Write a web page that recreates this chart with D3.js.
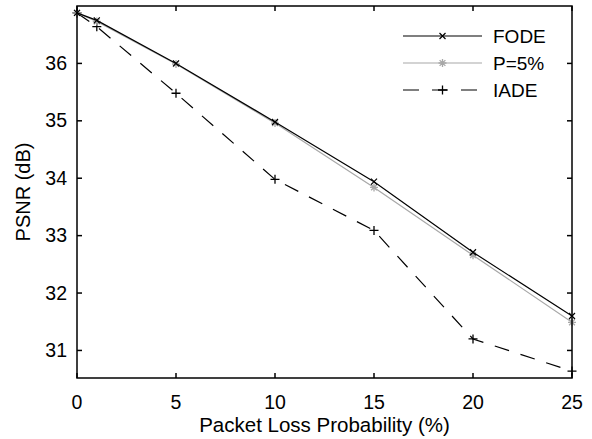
<!DOCTYPE html>
<html lang="en">
<head>
<meta charset="UTF-8">
<title>PSNR vs packet loss</title>
<script src="https://cdn.jsdelivr.net/npm/d3@7"></script>
<style>
    body { margin: 0; background: #fff; }
    text { font-family: "Liberation Sans", Arial, sans-serif; fill: #000; }
</style>
</head>
<body>
<script>
    // data
    var lossProb = [0, 1, 5, 10, 15, 20, 25];
    var fode = [36.88, 36.75, 36.0, 34.98, 33.94, 32.71, 31.6];
    var p5 = [36.88, 36.73, 35.99, 34.96, 33.84, 32.66, 31.49];
    var iade = [36.88, 36.64, 35.48, 33.98, 33.09, 31.2, 30.64];
    var xTicks = [0, 5, 10, 15, 20, 25];
    var yTicks = [31, 32, 33, 34, 35, 36];

    var W = 592, H = 439;
    var m = {left: 77, right: 20, top: 6, bottom: 61};

    var svg = d3.select("body").append("svg")
        .attr("width", W).attr("height", H);

    var x = d3.scaleLinear().domain([0, 25]).range([m.left, W - m.right]);
    var y = d3.scaleLinear().domain([30.52, 37.0]).range([H - m.bottom, m.top]);

    var series = [
        {name: "FODE", vals: fode, color: "#000", dash: null, mark: "x"},
        {name: "P=5%", vals: p5, color: "#a8a8a8", dash: null, mark: "star"},
        {name: "IADE", vals: iade, color: "#000", dash: "15,12", mark: "plus"}
    ];

    function marker(g, type, cx, cy, color) {
        var s;
        if (type == "x") {
            s = 3;
            g.append("path").attr("d", `M${cx-s},${cy-s}L${cx+s},${cy+s}M${cx-s},${cy+s}L${cx+s},${cy-s}`)
                .attr("stroke", color).attr("stroke-width", 1.2);
        } else if (type == "plus") {
            s = 4.5;
            g.append("path").attr("d", `M${cx-s},${cy}L${cx+s},${cy}M${cx},${cy-s}L${cx},${cy+s}`)
                .attr("stroke", color).attr("stroke-width", 1.3);
        } else {
            s = 4;
            var d = 2.9;
            g.append("path").attr("d", `M${cx-s},${cy}L${cx+s},${cy}M${cx},${cy-s}L${cx},${cy+s}` +
                    `M${cx-d},${cy-d}L${cx+d},${cy+d}M${cx-d},${cy+d}L${cx+d},${cy-d}`)
                .attr("stroke", color).attr("stroke-width", 1.3);
        }
    }

    var line = d3.line().x((d, i) => x(lossProb[i])).y(d => y(d));

    var plot = svg.append("g");
    // IADE first, FODE last so it sits on top
    [series[2], series[1], series[0]].forEach(function(s) {
        plot.append("path")
            .attr("d", line(s.vals))
            .attr("fill", "none")
            .attr("stroke", s.color)
            .attr("stroke-width", 1.2)
            .attr("stroke-dasharray", s.dash);
        s.vals.forEach(function(v, i) {
            marker(plot, s.mark, x(lossProb[i]), y(v), s.color);
        });
    });

    // frame + inward ticks on all four sides
    var x0 = x.range()[0], x1 = x.range()[1], y0 = y.range()[0], y1 = y.range()[1];
    var tl = 5;
    var ax = svg.append("g").attr("stroke", "#000").attr("stroke-width", 1.5);
    ax.append("rect").attr("x", x0).attr("y", y1).attr("width", x1 - x0).attr("height", y0 - y1)
        .attr("fill", "none");
    xTicks.forEach(function(t) {
        ax.append("line").attr("x1", x(t)).attr("x2", x(t)).attr("y1", y0).attr("y2", y0 - tl);
        ax.append("line").attr("x1", x(t)).attr("x2", x(t)).attr("y1", y1).attr("y2", y1 + tl);
    });
    yTicks.forEach(function(t) {
        ax.append("line").attr("x1", x0).attr("x2", x0 + tl).attr("y1", y(t)).attr("y2", y(t));
        ax.append("line").attr("x1", x1).attr("x2", x1 - tl).attr("y1", y(t)).attr("y2", y(t));
    });

    svg.selectAll(".xt").data(xTicks).enter().append("text")
        .attr("x", d => x(d)).attr("y", y0 + 31)
        .attr("text-anchor", "middle").attr("font-size", "19.5px")
        .text(d => d);
    svg.selectAll(".yt").data(yTicks).enter().append("text")
        .attr("x", x0 - 10).attr("y", d => y(d) + 6.5)
        .attr("text-anchor", "end").attr("font-size", "19.5px")
        .text(d => d);

    svg.append("text")
        .attr("x", (x0 + x1) / 2).attr("y", 432)
        .attr("text-anchor", "middle").attr("font-size", "20.5px")
        .text("Packet Loss Probability (%)");
    svg.append("text")
        .attr("transform", `translate(30,${(y0 + y1) / 2}) rotate(-90)`)
        .attr("text-anchor", "middle").attr("font-size", "20px")
        .text("PSNR (dB)");

    // legend (no box)
    var lg = svg.append("g");
    series.forEach(function(s, i) {
        var ly = 36 + i * 27;
        lg.append("line").attr("x1", 403).attr("x2", 482).attr("y1", ly).attr("y2", ly)
            .attr("stroke", s.color).attr("stroke-width", 1.2)
            .attr("stroke-dasharray", s.dash ? "16,13" : null);
        marker(lg, s.mark, 442.5, ly, s.color);
        lg.append("text").attr("x", 493).attr("y", ly + 7)
            .attr("font-size", "19px").text(s.name);
    });
</script>
</body>
</html>
